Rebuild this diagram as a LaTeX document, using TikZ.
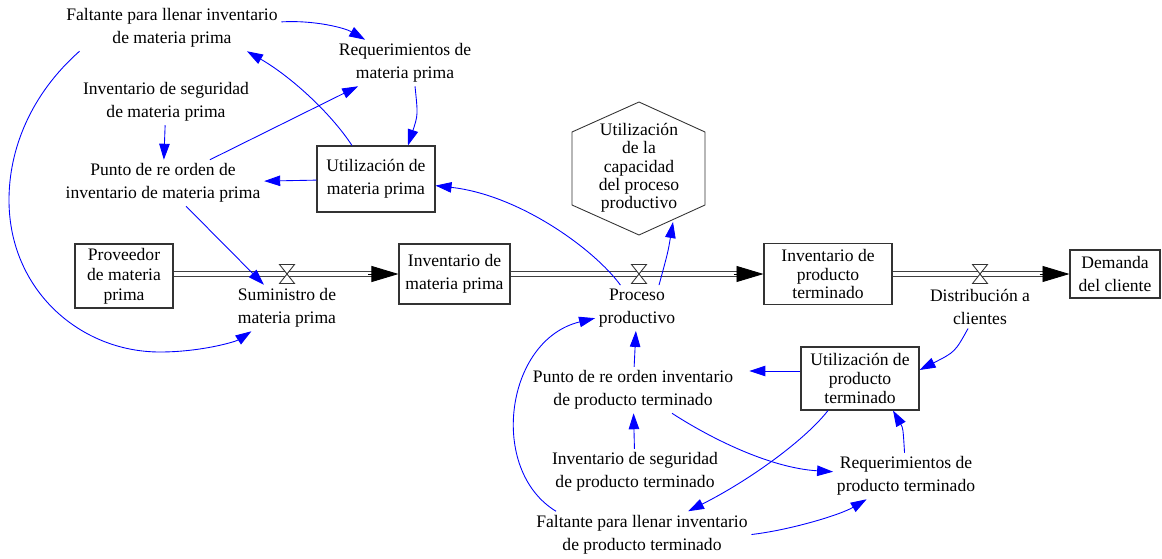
\documentclass[tikz,border=0pt]{standalone}
\usepackage{fontspec}
\setmainfont{Liberation Serif}
\usetikzlibrary{arrows.meta}

\begin{document}
\begin{tikzpicture}[x=0.02cm, y=-0.02cm,
    every node/.style={font=\fontsize{10}{13}\selectfont, align=center, inner sep=2pt},
    stock/.style={draw=black!80, line width=0.6pt, inner sep=0pt},
    pipe/.style={draw=black!75, line width=0.55pt, double=white, double distance=0.07cm},
    pipetip/.style={-{Triangle[length=0.54cm, width=0.32cm]}, black, line width=0.5pt},
    link/.style={blue, line width=0.5pt, -{Triangle[length=0.32cm, width=0.21cm]}},
    valve/.pic={\draw[black!80, line width=0.5pt, fill=white] (-7.5,-9.5) -- (7.5,-9.5) -- (-7.5,9.5) -- (7.5,9.5) -- cycle;}]
    \useasboundingbox (0,0) rectangle (1162,558);

    % Stocks
    \node[stock, minimum width=1.96cm, minimum height=1.28cm, font=\fontsize{10}{11.3}\selectfont] (Prov) at (124,276) {Proveedor\\de materia\\prima};
    \node[stock, minimum width=2.22cm, minimum height=1.2cm] (InvMP) at (454.5,274) {Inventario de\\materia prima};
    \node[stock, minimum width=2.36cm, minimum height=1.32cm] (UtilMP) at (376,179) {Utilización de\\materia prima};
    \node[stock, minimum width=2.56cm, minimum height=1.22cm, font=\fontsize{10}{10.8}\selectfont] (InvPT) at (828,274) {Inventario de\\producto\\terminado};
    \node[stock, minimum width=1.8cm, minimum height=0.96cm] (Dem) at (1115,274) {Demanda\\del cliente};
    \node[stock, minimum width=2.36cm, minimum height=1.26cm, font=\fontsize{10}{10.8}\selectfont] (UtilPT) at (860,378.5) {Utilización de\\producto\\terminado};

    % Capacity hexagon
    \draw[black!80, line width=0.5pt] (639,102) -- (705,132) -- (705,205) -- (639,235) -- (572,205) -- (572,132) -- cycle;
    \node[font=\fontsize{10}{10.4}\selectfont] (Cap) at (639,168) {Utilización\\de la\\capacidad\\del proceso\\productivo};
    \coordinate (CapIn) at (673,222);

    % Flows with valves
    \coordinate (V1) at (287,274);
    \coordinate (V2) at (639,274);
    \coordinate (V3) at (980,274);
    \draw[pipe] (Prov.east |- V1) -- ([xshift=-0.5cm]InvMP.west);
    \draw[pipetip] ([xshift=-0.6cm]InvMP.west) -- (InvMP.west);
    \draw[pipe] (InvMP.east) -- ([xshift=-0.5cm]InvPT.west);
    \draw[pipetip] ([xshift=-0.6cm]InvPT.west) -- (InvPT.west);
    \draw[pipe] (InvPT.east) -- ([xshift=-0.5cm]Dem.west);
    \draw[pipetip] ([xshift=-0.6cm]Dem.west) -- (Dem.west);
    \pic at (V1) {valve};
    \pic at (V2) {valve};
    \pic at (V3) {valve};
    \node (Sum) at (287,308) {Suministro de\\materia prima};
    \node (Proc) at (637,308) {Proceso\\productivo};
    \node (Dist) at (980,307) {Distribución a\\clientes};

    % Auxiliaries
    \node (FaltMP) at (172,28) {Faltante para llenar inventario\\de materia prima};
    \node (ReqMP) at (405,63) {Requerimientos de\\materia prima};
    \node (SegMP) at (166,102) {Inventario de seguridad\\de materia prima};
    \node (PuntoMP) at (163,183) {Punto de re orden de\\inventario de materia prima};
    \node (PuntoPT) at (633,390) {Punto de re orden inventario\\de producto terminado};
    \node (SegPT) at (635,472) {Inventario de seguridad\\de producto terminado};
    \node (FaltPT) at (642,534.5) {Faltante para llenar inventario\\de producto terminado};
    \node (ReqPT) at (906,476) {Requerimientos de\\producto terminado};

    % Links, raw material side
    \draw[link] (FaltMP) .. controls (315,20) and (345,28) .. (ReqMP);
    \draw[link] ([xshift=-0.48cm]UtilMP.north) .. controls (330,112) and (290,76) .. ([xshift=1.5cm]FaltMP.south);
    \draw[link] (PuntoMP) -- (ReqMP);
    \draw[link] ([xshift=0.2cm]ReqMP.south) .. controls (418,115) .. ([xshift=0.64cm]UtilMP.north);
    \draw[link] (SegMP) -- (PuntoMP);
    \draw[link] (UtilMP) -- (PuntoMP);
    \draw[link] (PuntoMP) -- (Sum);
    \draw[link] ([xshift=0.34cm]FaltMP.south west) .. controls (30,95) and (9,150) .. (9,200)
        .. controls (9,290) and (80,352) .. (160,352) .. controls (200,352) and (235,342) .. (Sum);
    \draw[link] (Proc) .. controls (595,250) and (520,195) .. (UtilMP);
    \draw[link] ([xshift=0.44cm]Proc.north) .. controls (668,252) .. (CapIn);

    % Links, finished product side
    \draw[link] (PuntoPT) -- (Proc);
    \draw[link] (SegPT) -- (PuntoPT);
    \draw[link, shorten >=0.25cm] ([yshift=0.15cm]UtilPT.west) -- ([yshift=0.15cm]UtilPT.west -| PuntoPT.east);
    \draw[link] (Dist) .. controls (955,352) .. ([yshift=0.17cm]UtilPT.east);
    \draw[link] (ReqPT) .. controls (903,428) .. ([xshift=0.66cm]UtilPT.south);
    \draw[link] ([xshift=0.78cm]PuntoPT.south) .. controls (710,438) and (770,468) .. (ReqPT);
    \draw[link] ([xshift=-0.64cm]UtilPT.south) .. controls (805,440) and (750,480) .. (FaltPT);
    \draw[link] (FaltPT.east) .. controls (790,530) and (840,515) .. (ReqPT);
    \draw[link] ([xshift=-1.72cm]FaltPT.north) .. controls (488,470) and (505,340) .. (Proc);

\end{tikzpicture}
\end{document}
